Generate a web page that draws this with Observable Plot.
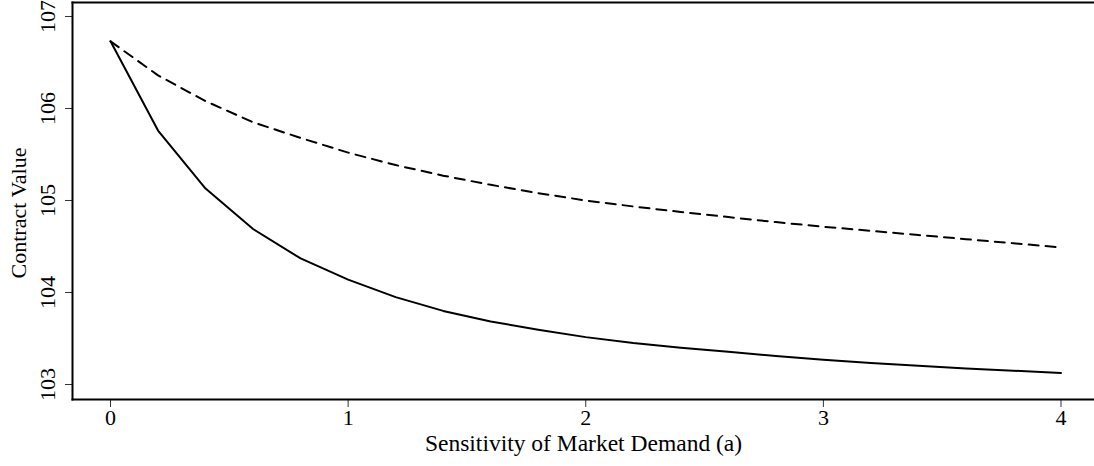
<!DOCTYPE html>
<html>
<head>
<meta charset="utf-8">
<script src="https://cdn.jsdelivr.net/npm/d3@7"></script>
<script src="https://cdn.jsdelivr.net/npm/@observablehq/plot@0.6"></script>
<style>
  html, body { margin: 0; padding: 0; background: white; }
  #chart svg { display: block; }
</style>
</head>
<body>
<div id="chart"></div>
<script>
// Sensitivity of market demand (a)
const aValues = [0, 0.2, 0.4, 0.6, 0.8, 1.0, 1.2, 1.4, 1.6, 1.8, 2.0, 2.2, 2.4, 2.6, 2.8, 3.0, 3.2, 3.4, 3.6, 3.8, 4.0];
// Solid series
const solidValues = [106.73, 105.76, 105.13, 104.69, 104.37, 104.14, 103.95, 103.80, 103.685, 103.595, 103.515, 103.45, 103.40, 103.355, 103.31, 103.27, 103.235, 103.205, 103.175, 103.15, 103.125];
// Dashed series
const dashedValues = [106.73, 106.36, 106.08, 105.85, 105.68, 105.52, 105.385, 105.27, 105.17, 105.08, 105.00, 104.935, 104.875, 104.82, 104.765, 104.715, 104.67, 104.625, 104.58, 104.535, 104.49];
const xTicks = [0, 1, 2, 3, 4];
const yTicks = [103, 104, 105, 106, 107];
const xLabel = "Sensitivity of Market Demand (a)";
const yLabel = "Contract Value";

const solid = aValues.map((a, i) => ({a, v: solidValues[i]}));
const dashed = aValues.map((a, i) => ({a, v: dashedValues[i]}));

const chart = Plot.plot({
  width: 1094,
  height: 466,
  marginLeft: 72,
  marginRight: 0,
  marginTop: 2,
  marginBottom: 67,
  x: {domain: [-0.16, 4.141]},
  y: {domain: [102.837, 107.152]},
  style: {fontFamily: "'Liberation Serif', 'Times New Roman', serif", fontSize: "22px", background: "white", color: "black"},
  marks: [
    Plot.axisX({ticks: xTicks, tickSize: 8, tickPadding: 2, tickFormat: d => String(d), label: xLabel, labelAnchor: "center", labelArrow: "none", labelOffset: 51, stroke: "#333", strokeWidth: 1}),
    Plot.axisY({ticks: yTicks, tickSize: 7, tickPadding: 11, tickRotate: -90, tickFormat: d => String(d), label: yLabel, labelAnchor: "center", labelArrow: "none", labelOffset: 62, stroke: "#333", strokeWidth: 1}),
    Plot.frame({anchor: "left", stroke: "black", strokeWidth: 2}),
    Plot.frame({anchor: "top", stroke: "black", strokeWidth: 2}),
    Plot.frame({anchor: "bottom", stroke: "black", strokeWidth: 2}),
    Plot.lineY(dashed, {x: "a", y: "v", stroke: "black", strokeWidth: 2, strokeDasharray: "10,7"}),
    Plot.lineY(solid, {x: "a", y: "v", stroke: "black", strokeWidth: 2})
  ]
});
const svg = d3.select(chart.tagName.toLowerCase() === "svg" ? chart : chart.querySelector("svg"));
svg.selectAll('g[aria-label="x-axis label"]').attr("font-size", 23.5);
svg.selectAll('g[aria-label="y-axis label"]').attr("font-size", 22)
  .attr("transform", function() { const t = d3.select(this).attr("transform") || ""; return t + " translate(0,12)"; });
document.getElementById("chart").appendChild(chart);
</script>
</body>
</html>
